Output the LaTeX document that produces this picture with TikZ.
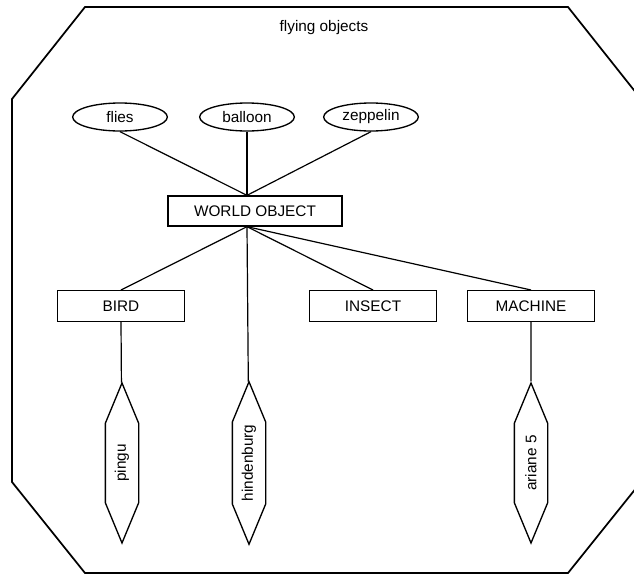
\documentclass[tikz,border=0pt]{standalone}
\usepackage{fontspec}
\setmainfont{Liberation Sans}
\usetikzlibrary{positioning,shapes.geometric,shapes.symbols}

\begin{document}
\begin{tikzpicture}[x=0.75pt, y=-0.75pt,
        every node/.style={font=\fontsize{11.5}{13}\selectfont},
        frame/.style={draw, line width=1.3pt, line join=miter},
        obj/.style={draw, ellipse, line width=1pt, minimum width=71pt, minimum height=21pt, inner sep=0pt},
        cls/.style={draw, rectangle, line width=1pt, minimum width=95pt, minimum height=23pt, inner sep=0pt},
        inst/.style={draw, signal, signal to=east and west, signal pointer angle=45, rotate=90,
                     line width=1pt, minimum width=120pt, minimum height=25pt, inner sep=2pt},
        link/.style={line width=0.9pt}]
        \useasboundingbox (0,0) rectangle (634,575);
        % outer frame
        \draw[frame] (85,7) -- (568,7) -- (641,99) -- (641,482) -- (568,573)
            -- (85,573) -- (12,482) -- (12,99) -- cycle;
        \node (title) at (324,28) {flying objects};
        % properties
        \node[obj] (flies) at (120,117) {flies};
        \node[obj] (balloon) at (247,117) {balloon};
        \node[obj] (zeppelin) at (371,117) {zeppelin};
        % classes
        \node[cls, minimum width=130.5pt, minimum height=22.5pt] (wo) at (255,211) {WORLD OBJECT};
        \node[cls] (bird) at (121,306) {BIRD};
        \node[cls] (insect) at (373,306) {INSECT};
        \node[cls] (machine) at (531,306) {MACHINE};
        % instances
        \node[inst] (pingu) at (122,463) {pingu};
        \node[inst] (hindenburg) at (249,463) {hindenburg};
        \node[inst] (ariane) at (531,463) {ariane 5};
        \coordinate (wotop) at (balloon |- wo.north);
        \coordinate (wobot) at (balloon |- wo.south);
        \foreach \p in {flies, balloon, zeppelin}
            \draw[link] (\p.south) -- (wotop);
        \foreach \c in {bird, insect, machine}
            \draw[link] (wobot) -- (\c.north);
        \draw[link] (wobot) -- (hindenburg);
        \draw[link] (bird.south) -- (pingu);
        \draw[link] (machine.south) -- (ariane);
      \end{tikzpicture}
\end{document}
